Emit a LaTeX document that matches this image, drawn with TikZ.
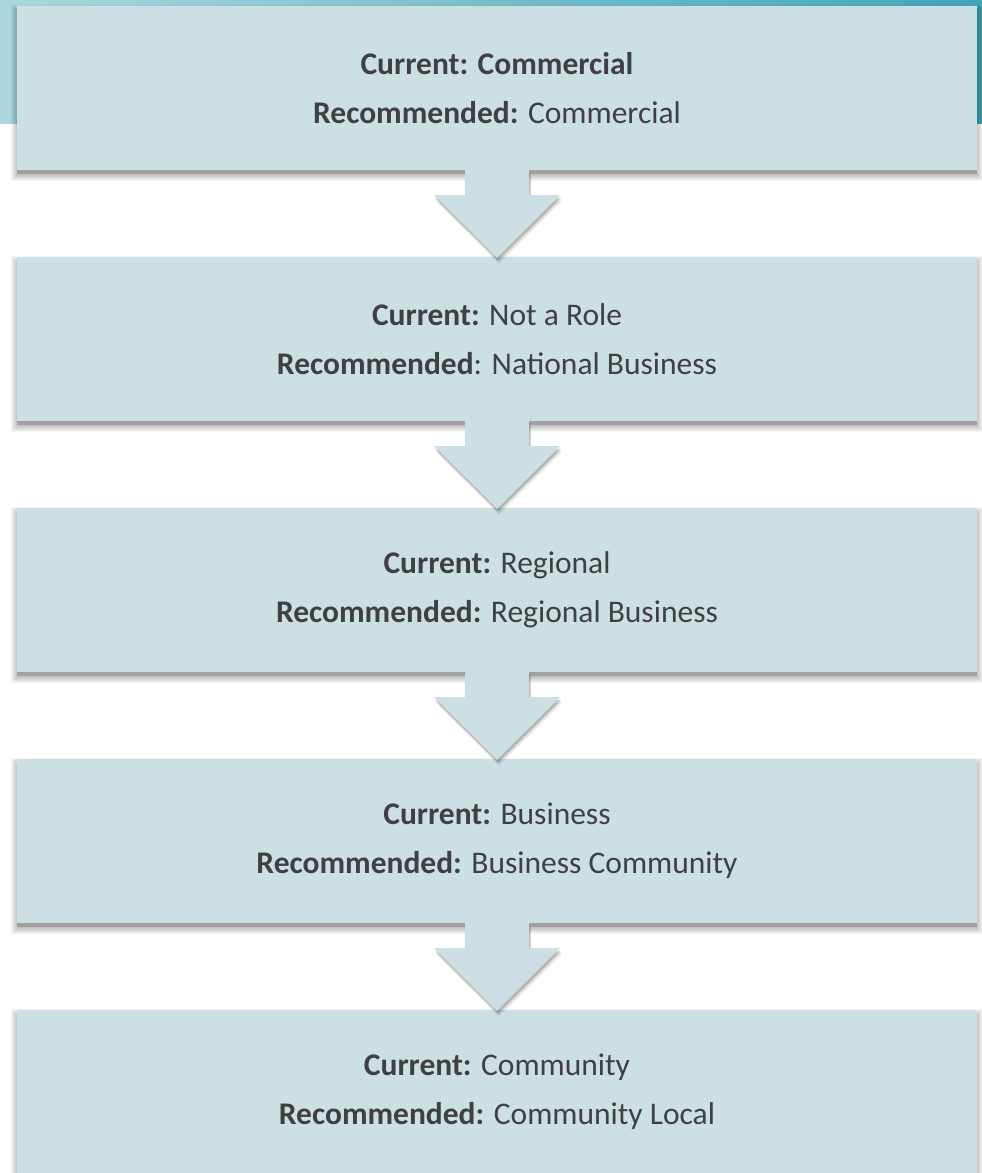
\documentclass[tikz,border=0pt]{standalone}
\usepackage{fontspec}
\setmainfont{Carlito}
\usetikzlibrary{shadows,calc}
\definecolor{boxfill}{HTML}{CCE0E4}
\definecolor{txt}{HTML}{404040}
\definecolor{bandL}{HTML}{ADD7DF}
\definecolor{bandR}{HTML}{3FA6B7}
\pgfdeclarelayer{back}
\pgfdeclarelayer{shade}
\pgfsetlayers{back,shade,main}
\begin{document}
\begin{tikzpicture}[x=1pt,y=-1pt,
  arrowshadow/.style={
    general shadow={fill=black,opacity=0.07,shadow yshift=-6pt,shadow xshift=2pt},
    general shadow={fill=black,opacity=0.10,shadow yshift=-4pt,shadow xshift=1.5pt},
    general shadow={fill=black,opacity=0.15,shadow yshift=-2.5pt,shadow xshift=1pt}},
  stagebox/.style={fill=boxfill, minimum width=960pt, minimum height=164pt,
    inner sep=0pt, align=center, text=txt,
    font=\fontsize{31.5}{49}\selectfont},
  shadowlayer/.style={fill=black, opacity=0.04},
  shadowcore/.style={fill=black, opacity=0.16},
  flowarrow/.style={fill=boxfill, arrowshadow}]
\useasboundingbox (0,0) rectangle (982,1173);
\begin{pgfonlayer}{back}
\fill[left color=bandL, right color=bandR] (0,0) rectangle (982,123);
\end{pgfonlayer}

\node[stagebox] (b1) at (497,88)  {\textbf{Current: Commercial}\\\textbf{Recommended:} Commercial};
\node[stagebox] (b2) at (497,339) {\textbf{Current:} Not a Role\\\textbf{Recommended}: National Business};
\node[stagebox] (b3) at (497,590) {\textbf{Current:} Regional\\\textbf{Recommended:} Regional Business};
\node[stagebox] (b4) at (497,841) {\textbf{Current:} Business\\\textbf{Recommended:} Business Community};
\node[stagebox] (b5) at (497,1092) {\textbf{Current:} Community\\\textbf{Recommended:} Community Local};

\begin{pgfonlayer}{shade}
\foreach \n in {b1,b2,b3,b4,b5}{
  \foreach \e in {6,5,4,3,2,1,0}{
    \fill[shadowlayer] ($(\n.north west)+(-\e,5-\e)$) rectangle ($(\n.south east)+(\e,5+\e)$);
  }
  \fill[shadowcore] ($(\n.north west)+(0,4)$) rectangle ($(\n.south east)+(0,4)$);
}
\end{pgfonlayer}

\foreach \a/\b in {b1/b2,b2/b3,b3/b4,b4/b5}{
  \fill[flowarrow] ($(\a.south)+(-32,-1)$) -- ($(\a.south)+(32,-1)$)
    -- ($(\a.south)+(32,25)$) -- ($(\a.south)+(63,25)$)
    -- ($(\b.north)+(0,1)$) -- ($(\a.south)+(-63,25)$)
    -- ($(\a.south)+(-32,25)$) -- cycle;
}
\end{tikzpicture}
\end{document}
